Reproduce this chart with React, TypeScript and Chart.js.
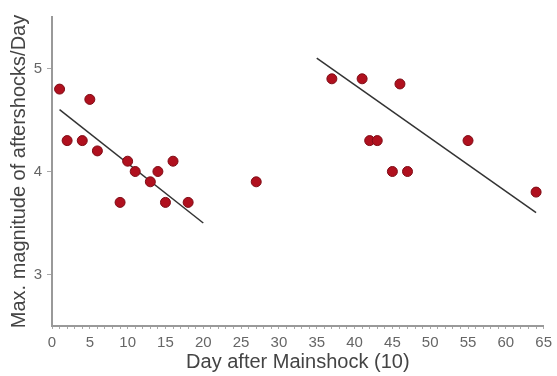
import React, { useEffect, useRef } from "react";
import { Chart, registerables } from "chart.js";

Chart.register(...registerables);

const days = [1, 2, 4, 5, 6, 9, 10, 11, 13, 14, 15, 16, 18, 27, 37, 41, 42, 43, 45, 46, 47, 55, 64];
const mags = [4.8, 4.3, 4.3, 4.7, 4.2, 3.7, 4.1, 4.0, 3.9, 4.0, 3.7, 4.1, 3.7, 3.9, 4.9, 4.9, 4.3, 4.3, 4.0, 4.85, 4.0, 4.3, 3.8];

const fit1X = [1, 20];
const fit1Y = [4.6, 3.5];
const fit2X = [35, 64];
const fit2Y = [5.1, 3.6];

const yTicks = [3, 4, 5];
const xTitle = "Day after Mainshock (10)";
const yTitle = "Max. magnitude of aftershocks/Day";

export default function App() {
  const ref = useRef<HTMLCanvasElement>(null);
  useEffect(() => {
    document.body.style.margin = "0";
    const font = "'Liberation Sans', Arial, sans-serif";
    const chart = new Chart(ref.current!, {
      type: "scatter",
      data: {
        datasets: [
          {
            type: "scatter",
            data: days.map((d, i) => ({ x: d, y: mags[i] })),
            backgroundColor: "#b0101e",
            borderColor: "#7e0c16",
            borderWidth: 1,
            pointRadius: 5,
            order: 1,
          },
          {
            type: "line",
            data: fit1X.map((d, i) => ({ x: d, y: fit1Y[i] })),
            borderColor: "#333333",
            borderWidth: 1.5,
            pointRadius: 0,
            order: 2,
          },
          {
            type: "line",
            data: fit2X.map((d, i) => ({ x: d, y: fit2Y[i] })),
            borderColor: "#333333",
            borderWidth: 1.5,
            pointRadius: 0,
            order: 2,
          },
        ] as any,
      },
      options: {
        animation: false,
        responsive: false,
        layout: { padding: { top: 17, right: 10, left: 0, bottom: 0 } },
        plugins: { legend: { display: false }, tooltip: { enabled: false } },
        scales: {
          x: {
            type: "linear",
            min: 0,
            max: 65,
            afterBuildTicks: (s: any) => {
              const t = [];
              for (let v = 0; v <= 65; v++) t.push({ value: v });
              s.ticks = t;
            },
            afterFit: (s: any) => {
              s.height = 50;
            },
            ticks: {
              autoSkip: false,
              maxRotation: 0,
              padding: 5,
              color: "#666",
              font: { family: font, size: 15 },
              callback: (v: any) => (v % 5 === 0 ? String(v) : ""),
            },
            grid: {
              drawOnChartArea: false,
              tickLength: 3,
              color: "#aaa",
              tickColor: "#aaa",
            },
            border: { color: "#999", width: 2 },
            title: {
              display: true,
              text: xTitle,
              color: "#444",
              font: { family: font, size: 20 },
              padding: 2,
            },
          },
          y: {
            type: "linear",
            min: 2.5,
            max: 5.5,
            afterBuildTicks: (s: any) => {
              s.ticks = yTicks.map((v) => ({ value: v }));
            },
            afterFit: (s: any) => {
              s.width = 52;
            },
            ticks: {
              padding: 5,
              color: "#666",
              font: { family: font, size: 15 },
            },
            grid: {
              drawOnChartArea: false,
              tickLength: 5,
              tickColor: "#aaa",
            },
            border: { color: "#999", width: 2 },
            title: {
              display: true,
              text: yTitle,
              color: "#444",
              font: { family: font, size: 20 },
              padding: 7,
            },
          },
        },
      },
    });
    return () => chart.destroy();
  }, []);
  return (
    <div style={{ position: "absolute", left: 0, top: 0, width: 557, height: 376 }}>
      <canvas ref={ref} width={557} height={376} style={{ display: "block" }} />
    </div>
  );
}
